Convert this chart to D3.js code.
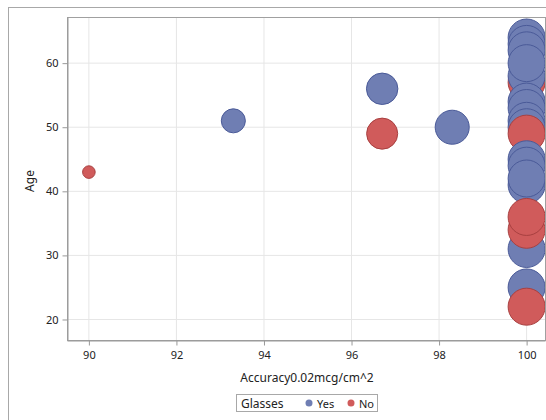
<!DOCTYPE html>
<html><head><meta charset="utf-8">
<script src="https://cdn.jsdelivr.net/npm/d3@7"></script>
<style>body{margin:0;background:#fff}svg{display:block}text{font-family:"Noto Sans",sans-serif;fill:#222}</style>
</head><body><svg id="c" width="546" height="420"></svg>
<script>
// data (drawn in this order)
const accuracy = [90, 93.3, 96.7, 96.7, 98.3, 100, 100, 100, 100, 100, 100, 100, 100, 100, 100, 100, 100, 100, 100, 100, 100, 100, 100, 100, 100];
const age      = [43, 51,   56,   49,   50,   64,  63,  62,  57,  58,  60,  54,  53,  51,  50,  49,  45,  44,  41,  42,  31,  34,  36,  25,  22];
const glasses  = ["No","Yes","Yes","No","Yes","Yes","Yes","Yes","No","Yes","Yes","Yes","Yes","Yes","Yes","No","Yes","Yes","Yes","Yes","Yes","No","No","Yes","No"];
const sizeVal  = [34, 65, 85, 84, 92, 100,100,100,100,100,100,100,100,100,100,100,100,100,100,100,100,100,100,100,100];
const xTicks = [90, 92, 94, 96, 98, 100];
const yTicks = [20, 30, 40, 50, 60];
const groups = ["Yes", "No"];
const groupFill = ["#6F7EB3", "#D05B5B"];
const groupLine = ["#4A5A98", "#A84040"];

const svg = d3.select("#c");
const L = 67, R = 545, T = 17, B = 340;
const x = d3.scaleLinear().domain([89.5, 100.42]).range([L, R]);
const y = d3.scaleLinear().domain([16.8, 67.2]).range([B, T]);
const r = d3.scaleLinear().domain([0, 100]).range([0, 18.5]);
const col = d3.scaleOrdinal().domain(groups).range(groupFill);
const colL = d3.scaleOrdinal().domain(groups).range(groupLine);

// outer frame
svg.append("rect").attr("x", 8.5).attr("y", 7.5).attr("width", 560).attr("height", 440)
  .attr("fill", "none").attr("stroke", "#a8a8a8");

// gridlines
svg.append("g").selectAll("line").data(xTicks).join("line")
  .attr("x1", d => x(d)).attr("x2", d => x(d)).attr("y1", T).attr("y2", B)
  .attr("stroke", "#e6e6e6");
svg.append("g").selectAll("line").data(yTicks).join("line")
  .attr("x1", L).attr("x2", R).attr("y1", d => y(d)).attr("y2", d => y(d))
  .attr("stroke", "#e6e6e6");

// bubbles
svg.append("clipPath").attr("id", "pc").append("rect")
  .attr("x", L).attr("y", T).attr("width", R - L).attr("height", B - T);
svg.append("g").attr("clip-path", "url(#pc)").selectAll("circle").data(d3.range(accuracy.length)).join("circle")
  .attr("cx", i => x(accuracy[i])).attr("cy", i => y(age[i])).attr("r", i => r(sizeVal[i]))
  .attr("fill", i => col(glasses[i])).attr("stroke", i => colL(glasses[i])).attr("stroke-width", 1);

// plot frame
svg.append("rect").attr("x", L + 0.5).attr("y", T + 0.5).attr("width", R - L).attr("height", B - T)
  .attr("fill", "none").attr("stroke", "#a0a0a0").attr("stroke-width", 1);

// axes
const xa = svg.append("g").attr("transform", `translate(0,${B + 0.5})`)
  .call(d3.axisBottom(x).tickValues(xTicks).tickSize(5).tickSizeOuter(0).tickPadding(6).tickFormat(d3.format("d")));
const ya = svg.append("g").attr("transform", `translate(${L + 0.5},0)`)
  .call(d3.axisLeft(y).tickValues(yTicks).tickSize(5).tickSizeOuter(0).tickPadding(4).tickFormat(d3.format("d")));
[xa, ya].forEach(g => {
  g.select(".domain").attr("stroke", "#999");
  g.selectAll(".tick line").attr("stroke", "#999");
  g.selectAll(".tick text").attr("font-size", 11).attr("fill", "#333")
    .attr("font-family", '"Noto Sans",sans-serif');
});

// axis labels
svg.append("text").attr("x", (L + R) / 2 + 1).attr("y", 382).attr("text-anchor", "middle")
  .attr("font-size", 12).text("Accuracy0.02mcg/cm^2");
svg.append("text").attr("transform", "translate(34,181) rotate(-90)").attr("text-anchor", "middle")
  .attr("font-size", 12).text("Age");

// legend
const lg = svg.append("g");
lg.append("rect").attr("x", 236.5).attr("y", 394.5).attr("width", 141).attr("height", 17)
  .attr("fill", "#fff").attr("stroke", "#a8a8a8");
lg.append("text").attr("x", 241).attr("y", 407.5).attr("font-size", 12).text("Glasses");
const lx = [309, 351];
groups.forEach((g, i) => {
  lg.append("circle").attr("cx", lx[i]).attr("cy", 403).attr("r", 3.5).attr("fill", col(g));
  lg.append("text").attr("x", lx[i] + 8).attr("y", 407.5).attr("font-size", 11).text(g);
});
</script></body></html>
